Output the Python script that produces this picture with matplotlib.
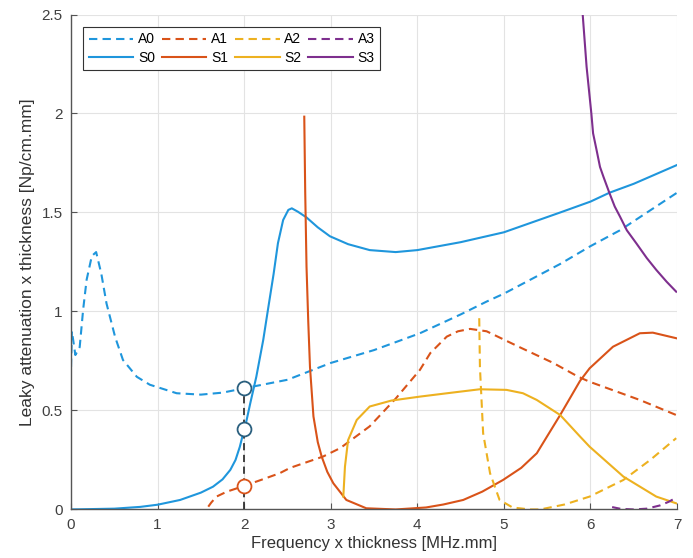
import numpy as np
import matplotlib
matplotlib.use("Agg")
import matplotlib.pyplot as plt

# ===============================
# DATA
# ===============================

a0_x = [0.0, 0.01, 0.05, 0.10, 0.14, 0.18, 0.24, 0.29, 0.35, 0.41, 0.51, 0.60, 0.76, 0.91,
        1.22, 1.5, 1.75, 2.0, 2.5, 3.0, 3.5, 4.03, 4.5, 4.8, 5.0, 5.65, 6.0, 6.34, 7.0]
a0_y = [0.72, 0.90, 0.78, 0.82, 1.01, 1.16, 1.28, 1.30, 1.19, 1.04, 0.87, 0.755, 0.67, 0.63,
        0.587, 0.58, 0.59, 0.612, 0.655, 0.74, 0.805, 0.89, 0.985, 1.05, 1.09, 1.24, 1.33, 1.41, 1.60]

s0_x = [0.0, 0.5, 0.8, 1.0, 1.26, 1.5, 1.64, 1.75, 1.84, 1.9, 1.95, 2.0, 2.02, 2.07, 2.14, 2.22,
        2.28, 2.34, 2.39, 2.45, 2.51, 2.55, 2.62, 2.72, 2.85, 2.99, 3.2, 3.45, 3.75, 4.0, 4.5,
        5.0, 5.65, 6.0, 6.22, 6.5, 7.0]
s0_y = [0.0, 0.004, 0.013, 0.024, 0.048, 0.085, 0.115, 0.152, 0.20, 0.25, 0.317, 0.405, 0.435,
        0.536, 0.67, 0.856, 1.024, 1.19, 1.345, 1.462, 1.513, 1.521, 1.504, 1.475, 1.425, 1.38,
        1.34, 1.31, 1.30, 1.31, 1.35, 1.40, 1.50, 1.555, 1.60, 1.645, 1.74]

a1_x = [1.585, 1.62, 1.68, 1.8, 2.0, 2.2, 2.41, 2.53, 2.91, 3.11, 3.45, 3.75, 4.03, 4.15, 4.34,
        4.47, 4.61, 4.80, 5.18, 5.57, 5.86, 5.99, 6.57, 6.99]
a1_y = [0.014, 0.035, 0.065, 0.09, 0.119, 0.15, 0.183, 0.21, 0.267, 0.31, 0.42, 0.56, 0.705,
        0.79, 0.873, 0.90, 0.912, 0.90, 0.82, 0.74, 0.67, 0.645, 0.553, 0.477]

s1_x = [2.694, 2.705, 2.72, 2.74, 2.76, 2.80, 2.85, 2.895, 2.96, 3.03, 3.18, 3.41, 3.75, 4.1,
        4.3, 4.53, 4.75, 4.99, 5.2, 5.38, 5.5, 5.65, 5.88, 5.99, 6.26, 6.57, 6.72, 6.99]
s1_y = [1.984, 1.60, 1.226, 0.95, 0.72, 0.47, 0.34, 0.267, 0.19, 0.132, 0.048, 0.006, 0.0, 0.01,
        0.025, 0.048, 0.09, 0.149, 0.21, 0.284, 0.37, 0.477, 0.65, 0.713, 0.822, 0.89, 0.893, 0.865]

a2_x = [4.715, 4.723, 4.76, 4.84, 4.95, 5.1, 5.3, 5.42, 5.7, 5.99, 6.38, 6.69, 6.99]
a2_y = [0.966, 0.72, 0.385, 0.183, 0.048, 0.01, 0.0, 0.0, 0.025, 0.065, 0.149, 0.25, 0.36]

s2_x = [3.145, 3.164, 3.20, 3.30, 3.45, 3.7, 4.03, 4.4, 4.72, 5.03, 5.22, 5.38, 5.65, 5.88,
        5.99, 6.38, 6.76, 6.99]
s2_y = [0.065, 0.216, 0.35, 0.452, 0.52, 0.55, 0.57, 0.59, 0.607, 0.604, 0.587, 0.553, 0.477,
        0.368, 0.317, 0.166, 0.065, 0.031]

a3_x = [6.25, 6.35, 6.5, 6.65, 6.8, 6.9, 7.0]
a3_y = [0.012, 0.003, 0.0, 0.004, 0.02, 0.038, 0.062]

s3_x = [5.91, 5.955, 6.01, 6.03, 6.07, 6.11, 6.15, 6.22, 6.28, 6.34, 6.42, 6.53, 6.65, 6.76,
        6.88, 6.99]
s3_y = [2.50, 2.236, 2.0, 1.90, 1.816, 1.73, 1.68, 1.597, 1.53, 1.48, 1.41, 1.344, 1.27, 1.21,
        1.15, 1.10]

# highlighted points at fd = 2
mark_x = 2.0
mark_y = [0.612, 0.405, 0.119]

# ===============================
# STYLE
# ===============================

plt.rcParams["font.family"] = ["Liberation Sans", "DejaVu Sans"]

c_blue = "#1f96dc"
c_orange = "#d95319"
c_yellow = "#edb120"
c_purple = "#7e2f8e"
lw = 1.5
dash = (4, 2.5)

fig = plt.figure(figsize=(6.93, 5.58), dpi=100)
ax = fig.add_axes([0.1025, 0.087, 0.8745, 0.887])

# ---------- CURVES ----------
ax.plot(a0_x, a0_y, color=c_blue, lw=lw, dashes=dash, label="A0")
ax.plot(s0_x, s0_y, color=c_blue, lw=lw, label="S0")
ax.plot(a1_x, a1_y, color=c_orange, lw=lw, dashes=dash, label="A1")
ax.plot(s1_x, s1_y, color=c_orange, lw=lw, label="S1")
ax.plot(a2_x, a2_y, color=c_yellow, lw=lw, dashes=dash, label="A2")
ax.plot(s2_x, s2_y, color=c_yellow, lw=lw, label="S2")
ax.plot(a3_x, a3_y, color=c_purple, lw=lw, dashes=dash, label="A3")
ax.plot(s3_x, s3_y, color=c_purple, lw=lw, label="S3")

# ---------- MARKERS AT fd = 2 ----------
ax.plot([mark_x, mark_x], [0, max(mark_y)], color="#333333", lw=1.3, dashes=(4, 2.5), zorder=4)
ax.plot([mark_x, mark_x], mark_y[:2], "o", ms=10, mfc="white", mec="#2a5f7e", mew=1.3, zorder=5)
ax.plot([mark_x], mark_y[2:], "o", ms=10, mfc="white", mec=c_orange, mew=1.3, zorder=5)

# ---------- AXES ----------
ax.set_xlim(0, 7)
ax.set_ylim(0, 2.5)
ax.set_xticks(range(0, 8))
ax.set_yticks([0, 0.5, 1, 1.5, 2, 2.5])
ax.set_yticklabels(["0", "0.5", "1", "1.5", "2", "2.5"])
ax.grid(True, color="#e3e3e3", lw=0.8)
ax.set_axisbelow(True)
for s in ["top", "right"]:
    ax.spines[s].set_visible(False)
for s in ["left", "bottom"]:
    ax.spines[s].set_color("#555555")
    ax.spines[s].set_linewidth(1.0)
ax.tick_params(direction="in", length=4, width=0.8, color="#555555",
               labelcolor="#404040", labelsize=11, pad=6)

ax.set_xlabel("Frequency x thickness [MHz.mm]", fontsize=12, color="#333333", labelpad=3)
ax.set_ylabel("Leaky attenuation x thickness [Np/cm.mm]", fontsize=12.5, color="#333333", labelpad=5)

# legend: dashed row on top, solid row below (column-major fill)
leg = ax.legend(ncol=4, loc="upper left", bbox_to_anchor=(0.02, 0.975), borderaxespad=0,
                fontsize=10, handlelength=3.2, handletextpad=0.35, columnspacing=0.5,
                labelspacing=0.3, borderpad=0.4, fancybox=False, framealpha=1,
                edgecolor="#333333")
leg.get_frame().set_linewidth(0.8)

fig.savefig("out.png", dpi=100)
